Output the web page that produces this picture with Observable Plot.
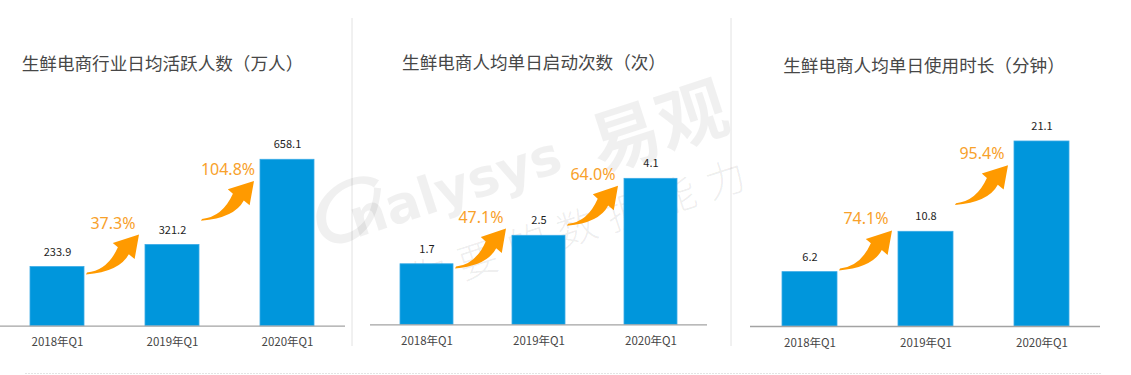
<!DOCTYPE html>
<html>
<head>
<meta charset="utf-8">
<script src="https://cdn.jsdelivr.net/npm/d3@7"></script>
<script src="https://cdn.jsdelivr.net/npm/@observablehq/plot@0.6"></script>
<style>
  body { margin: 0; background: #fff; }
  #root { position: relative; width: 1131px; height: 375px; overflow: hidden; font-family: "Noto Sans CJK SC", "Noto Sans", sans-serif; }
  .title { position: absolute; font-size: 17.6px; color: #474747; white-space: nowrap; line-height: 1; transform: translate(-50%, -50%); z-index: 2; }
  .panel { position: absolute; top: 0; z-index: 1; }
  #decor { position: absolute; left: 0; top: 0; z-index: 0; }
</style>
</head>
<body>
<div id="root"></div>
<script>
// ---------- data ----------
const quarters = ["2018年Q1", "2019年Q1", "2020年Q1"];
const titles = ["生鲜电商行业日均活跃人数（万人）", "生鲜电商人均单日启动次数（次）", "生鲜电商人均单日使用时长（分钟）"];
const dauValues = [233.9, 321.2, 658.1];        // 万人
const dauGrowth = [37.3, 104.8];                 // %
const launchValues = [1.7, 2.5, 4.1];            // 次
const launchGrowth = [47.1, 64.0];               // %
const durationValues = [6.2, 10.8, 21.1];        // 分钟
const durationGrowth = [74.1, 95.4];             // %
const axisMax = [800, 5, 25];                    // value-axis maxima

// ---------- layout ----------
const W = 1131, H = 375;
const panels = [
  { values: dauValues, growth: dauGrowth, left: 0, width: 345, baseline: 325.7, top: 123.4, tx: 162.5, ty: 63 },
  { values: launchValues, growth: launchGrowth, left: 370, width: 337, baseline: 324.3, top: 146.3, tx: 534, ty: 62 },
  { values: durationValues, growth: durationGrowth, left: 750, width: 350, baseline: 326, top: 106.8, tx: 924, ty: 65 }
];

const root = document.getElementById("root");

// background decoration: separators, bottom dotted rule, watermark
const decor = d3.create("svg").attr("id", "decor").attr("width", W).attr("height", H);
[352, 731].forEach(x => decor.append("line").attr("x1", x).attr("x2", x).attr("y1", 18).attr("y2", 346)
  .attr("stroke", "#e2e2e2").attr("stroke-width", 1));
decor.append("line").attr("x1", 25).attr("x2", 1102).attr("y1", 373.5).attr("y2", 373.5)
  .attr("stroke", "#e4e4e4").attr("stroke-width", 1).attr("stroke-dasharray", "2,1");
const wm = decor.append("g").attr("fill", "#000");
wm.append("path").attr("transform", "translate(352,206) rotate(-28)").attr("fill-opacity", 0.06)
  .attr("d", "M28,-6 C20,-24 -20,-24 -30,2 C-36,20 -14,28 6,18 C16,12 24,2 28,-6 L34,-2 C26,10 14,26 -8,30 C-34,34 -46,14 -38,-4 C-28,-30 22,-34 36,-10 Z");
wm.append("text").attr("transform", "translate(356,238) rotate(-18)").attr("fill-opacity", 0.06)
  .attr("font-family", "DejaVu Sans").attr("font-weight", "bold").attr("font-size", 52).text("nalysys");
wm.append("text").attr("transform", "translate(600,172) rotate(-18)").attr("fill-opacity", 0.06)
  .attr("font-family", "Noto Sans CJK SC").attr("font-weight", "bold").attr("font-size", 70).text("易观");
wm.append("text").attr("transform", "translate(414,296) rotate(-18)").attr("fill-opacity", 0.07)
  .attr("font-family", "Noto Sans CJK SC").attr("font-weight", 300).attr("font-size", 40)
  .attr("letter-spacing", 12).text("你要的数据能力");
root.appendChild(decor.node());

// arrow glyph, drawn with tail at (0,0) and tip at (51,-39.3)
const ARROW = "M0,0 Q20,-2 30.3,-26 L25.3,-30.6 L51,-39.3 L46.7,-14 L41,-19 Q32,-1 -1,2 Z";

function growthMark(values, growth) {
  return (index, scales) => {
    const x = scales.x, y = scales.y;
    const bw = x.bandwidth();
    const g = d3.create("svg:g");
    for (let i = 0; i < growth.length; i++) {
      const x0 = x(quarters[i]) + bw + 3;
      const x1 = x(quarters[i + 1]) - 6;
      const mid = (y(values[i]) + y(values[i + 1])) / 2 - 2;
      const y0 = mid + 19, y1 = mid - 19;
      const sx = (x1 - x0) / 51, sy = (y0 - y1) / 39.3;
      g.append("path")
        .attr("transform", `translate(${x0},${y0}) scale(${sx},${sy})`)
        .attr("d", ARROW).attr("fill", "#ff9a00");
      g.append("text")
        .attr("x", (x0 + x1) / 2).attr("y", y1 - 12)
        .attr("text-anchor", "middle").attr("dominant-baseline", "central")
        .attr("font-family", "'Noto Sans', sans-serif").attr("font-size", 16)
        .attr("fill", "#f8a12b").text(growth[i].toFixed(1) + "%");
    }
    return g.node();
  };
}

panels.forEach((p, k) => {
  const data = quarters.map((q, i) => ({ q, v: p.values[i] }));
  const chart = Plot.plot({
    width: p.width,
    height: H,
    marginLeft: 0,
    marginRight: 0,
    marginTop: p.top,
    marginBottom: H - p.baseline,
    style: { background: "transparent", overflow: "visible", fontFamily: "'Noto Sans CJK SC', sans-serif", fontSize: "11.5px", color: "#454545" },
    x: { domain: quarters, paddingInner: 0.53, paddingOuter: 0.265, axis: null },
    y: { domain: [0, axisMax[k]], axis: null },
    marks: [
      Plot.barY(data, { x: "q", y: "v", fill: "#0096dc", stroke: "#3aaae6", strokeWidth: 0.8 }),
      Plot.ruleY([0], { stroke: "#a3a3a3", strokeWidth: 1.3 }),
      Plot.axisX({ tickSize: 0, tickPadding: 12, label: null }),
      Plot.text(data, { x: "q", y: "v", text: d => d.v.toFixed(1), dy: -15, fontSize: 11, fill: "#1e1e1e" }),
      growthMark(p.values, p.growth)
    ]
  });
  chart.classList.add("panel");
  chart.style.left = p.left + "px";
  root.appendChild(chart);

  const t = document.createElement("div");
  t.className = "title";
  t.style.left = p.tx + "px";
  t.style.top = p.ty + "px";
  t.textContent = titles[k];
  root.appendChild(t);
});
</script>
</body>
</html>
